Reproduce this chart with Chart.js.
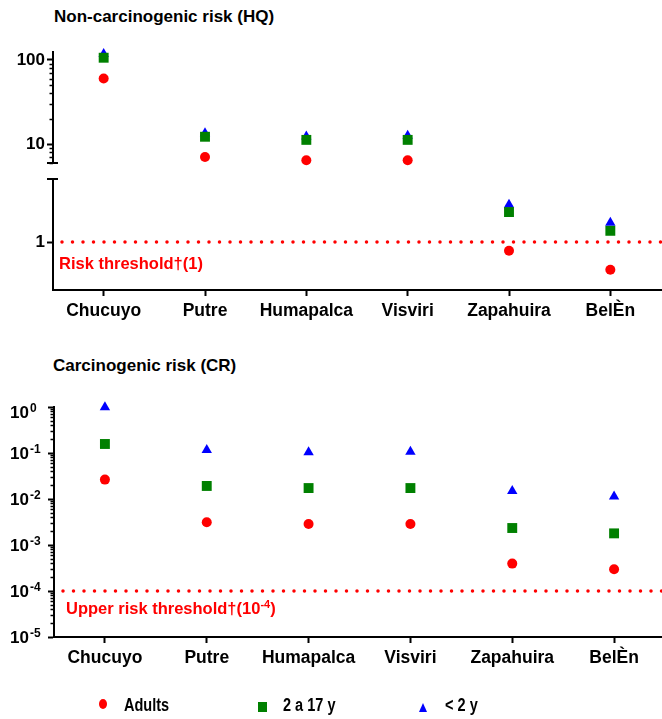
<!DOCTYPE html>
<html>
<head>
<meta charset="utf-8">
<script src="https://cdn.jsdelivr.net/npm/chart.js@4.4.1/dist/chart.umd.min.js"></script>
<style>
  html, body { margin: 0; padding: 0; background: #fff; overflow: hidden; }
  body { width: 662px; height: 719px; position: relative; font-family: 'Liberation Sans', Arial, sans-serif; }
  .title { position: absolute; left: 54px; font-weight: bold; font-size: 17px; line-height: 17px; color: #000; white-space: nowrap; }
  .box { position: absolute; left: 0; width: 672px; }
  .marker { position: absolute; }
  .legend-text { position: absolute; top: 694.5px; font-weight: bold; font-size: 17.5px; line-height: 20px; color: #000;
    white-space: nowrap; transform: scaleX(0.83); transform-origin: left center; }
</style>
</head>
<body>
<div class="title" style="top:8px">Non-carcinogenic risk (HQ)</div>
<div class="box" style="top:0;height:330px"><canvas id="hqChart"></canvas></div>
<div class="title" style="top:357px;left:53px">Carcinogenic risk (CR)</div>
<div class="box" style="top:340px;height:379px"><canvas id="crChart"></canvas></div>
<div id="legend"></div>

<script>
const sites = ['Chucuyo', 'Putre', 'Humapalca', 'Visviri', 'Zapahuira', 'BelÈn'];
const seriesNames = ['Adults', '2 a 17 y', '< 2 y'];

// hazard quotient (HQ)
const hqAdults = [60, 7.0, 6.4, 6.4, 0.79, 0.47];
const hqTeens = [106, 12.2, 11.2, 11.2, 2.27, 1.36];
const hqInfants = [117, 13.4, 12.3, 12.5, 2.77, 1.69];

// carcinogenic risk (CR)
const crAdults = [0.0264, 0.00311, 0.00286, 0.00286, 0.000394, 0.000296];
const crTeens = [0.157, 0.0192, 0.0173, 0.0173, 0.00234, 0.00179];
const crInfants = [0.985, 0.116, 0.104, 0.106, 0.0149, 0.0113];

const hqThreshold = 1;
const crThreshold = 1e-4;
const hqBreak = 5.8;
const hqUpperRange = [5.95, 124];
const hqLowerRange = [0.27, 5.6];
const crRange = [1e-5, 1];

const FONT = "'Liberation Sans', Arial, sans-serif";
Chart.defaults.font.family = FONT;
Chart.defaults.color = '#000';

const styles = [
  { color: '#ff0000', pointStyle: 'circle', radius: 5 },
  { color: '#008000', pointStyle: 'rect', radius: 7 },
  { color: '#0000ff', pointStyle: 'triangle', radius: 6 }
];

function pointSet(label, data, style, yAxisID) {
  return {
    label, data, yAxisID,
    clip: false,
    showLine: false,
    pointStyle: style.pointStyle,
    pointRadius: style.radius,
    pointHoverRadius: style.radius,
    pointBackgroundColor: style.color,
    pointBorderColor: style.color,
    pointBorderWidth: 0,
    borderColor: style.color,
    backgroundColor: style.color
  };
}

// dotted red line + caption
const thresholdLine = {
  id: 'thresholdLine',
  afterDatasetsDraw(chart, args, opts) {
    const scale = chart.scales[opts.scaleId];
    const y = scale.getPixelForValue(opts.value);
    const { left, right } = chart.chartArea;
    const ctx = chart.ctx;
    ctx.save();
    ctx.strokeStyle = '#ff0000';
    ctx.lineWidth = 3.5;
    ctx.lineCap = 'round';
    ctx.setLineDash([0, 10.5]);
    ctx.beginPath();
    ctx.moveTo(left + 9, y);
    ctx.lineTo(right, y);
    ctx.stroke();
    ctx.setLineDash([]);
    ctx.fillStyle = '#ff0000';
    ctx.textBaseline = 'alphabetic';
    ctx.font = 'bold 16.5px ' + FONT;
    let x = left + opts.labelX;
    const base = y + opts.labelDy;
    ctx.fillText(opts.label, x, base);
    x += ctx.measureText(opts.label).width;
    if (opts.sup) {
      ctx.font = 'bold 11px ' + FONT;
      ctx.fillText(opts.sup, x, base - 6);
      x += ctx.measureText(opts.sup).width;
      ctx.font = 'bold 16.5px ' + FONT;
      ctx.fillText(opts.tail, x, base);
    }
    ctx.restore();
  }
};

// minor ticks on log axes, and caps at the axis break
const axisExtras = {
  id: 'axisExtras',
  afterDraw(chart, args, opts) {
    const ctx = chart.ctx;
    ctx.save();
    ctx.strokeStyle = '#000';
    ctx.lineWidth = 1.5;
    (opts.minor || []).forEach(id => {
      const s = chart.scales[id];
      const lo = Math.floor(Math.log10(s.min));
      const hi = Math.ceil(Math.log10(s.max));
      for (let n = lo; n <= hi; n++) {
        for (let k = 2; k <= 9; k++) {
          const v = k * Math.pow(10, n);
          if (v < s.min || v > s.max) continue;
          const y = Math.round(s.getPixelForValue(v)) + 0.5;
          ctx.beginPath();
          ctx.moveTo(s.right - 3.5, y);
          ctx.lineTo(s.right, y);
          ctx.stroke();
        }
      }
    });
    ctx.lineWidth = 2;
    (opts.caps || []).forEach(c => {
      const s = chart.scales[c.scaleId];
      const y = s.getPixelForValue(c.at === 'min' ? s.min : s.max);
      ctx.beginPath();
      ctx.moveTo(s.right - 6, y);
      ctx.lineTo(s.right + 5, y);
      ctx.stroke();
    });
    ctx.restore();
  }
};

// "10" with superscript exponent
const expLabels = {
  id: 'expLabels',
  afterDraw(chart, args, opts) {
    const s = chart.scales[opts.scaleId];
    const ctx = chart.ctx;
    ctx.save();
    ctx.fillStyle = '#000';
    ctx.textBaseline = 'alphabetic';
    s.ticks.forEach(t => {
      let y = s.getPixelForValue(t.value);
      if (y < s.top + 4) y += 5; // keep the top label inside
      const exp = Math.round(Math.log10(t.value));
      ctx.font = 'bold 17px ' + FONT;
      ctx.fillText('10', opts.x, y + 6);
      const w = ctx.measureText('10').width;
      ctx.font = 'bold 12px ' + FONT;
      ctx.fillText(String(exp), opts.x + w + 1, y);
    });
    ctx.restore();
  }
};

function xScale(height) {
  return {
    type: 'category',
    offset: true,
    grid: { drawOnChartArea: false, tickLength: 6, tickWidth: 2, tickColor: '#000' },
    border: { color: '#000', width: 2 },
    ticks: { color: '#000', font: { size: 17.5, weight: 'bold' }, padding: 5, autoSkip: false, maxRotation: 0 },
    afterFit: s => { s.height = height; }
  };
}

function logAxis(range, ticks, extra) {
  return Object.assign({
    type: 'logarithmic',
    position: 'left',
    min: range[0],
    max: range[1],
    grid: { drawOnChartArea: false, tickLength: 6, tickWidth: 2, tickColor: '#000' },
    border: { color: '#000', width: 2 },
    ticks: { color: '#000', font: { size: 17, weight: 'bold' }, padding: 2, callback: v => String(v) },
    afterBuildTicks: s => { s.ticks = ticks.map(v => ({ value: v })); },
    afterFit: s => { s.width = 53; }
  }, extra);
}

const hqSeries = [hqAdults, hqTeens, hqInfants];
const hqSets = [];
hqSeries.forEach((vals, i) => {
  hqSets.push(pointSet(seriesNames[i], vals.map(v => v >= hqBreak ? v : null), styles[i], 'yUpper'));
  hqSets.push(pointSet(seriesNames[i], vals.map(v => v < hqBreak ? v : null), styles[i], 'yLower'));
});

new Chart(document.getElementById('hqChart'), {
  type: 'line',
  data: { labels: sites, datasets: hqSets },
  options: {
    responsive: true,
    maintainAspectRatio: false,
    animation: false,
    layout: { padding: { top: 52, bottom: 0, left: 0, right: 11 } },
    plugins: {
      legend: { display: false },
      tooltip: { enabled: false },
      thresholdLine: { scaleId: 'yLower', value: hqThreshold, label: 'Risk threshold†(1)', labelX: 6, labelDy: 27 },
      axisExtras: {
        minor: ['yUpper'],
        caps: [{ scaleId: 'yUpper', at: 'min' }, { scaleId: 'yLower', at: 'max' }]
      }
    },
    scales: {
      x: xScale(40),
      yUpper: logAxis(hqUpperRange, [10, 100], { stack: 'hq', stackWeight: 111, weight: 3 }),
      yGap: {
        type: 'linear', position: 'left', stack: 'hq', stackWeight: 16, weight: 2,
        grid: { display: false }, border: { display: false }, ticks: { display: false },
        afterFit: s => { s.width = 53; }
      },
      yLower: logAxis(hqLowerRange, [1], { stack: 'hq', stackWeight: 111, weight: 1 })
    }
  },
  plugins: [thresholdLine, axisExtras]
});

const crSeries = [crAdults, crTeens, crInfants];
const crSets = crSeries.map((vals, i) => pointSet(seriesNames[i], vals, styles[i], 'y'));
const crTicks = [1e-5, 1e-4, 1e-3, 1e-2, 1e-1, 1];

const crY = logAxis(crRange, crTicks, {});
crY.ticks = { display: false };
crY.afterFit = s => { s.width = 54; };

new Chart(document.getElementById('crChart'), {
  type: 'line',
  data: { labels: sites, datasets: crSets },
  options: {
    responsive: true,
    maintainAspectRatio: false,
    animation: false,
    layout: { padding: { top: 67, bottom: 0, left: 0, right: 0 } },
    plugins: {
      legend: { display: false },
      tooltip: { enabled: false },
      thresholdLine: { scaleId: 'y', value: crThreshold, label: 'Upper risk threshold†(10', sup: '-4', tail: ')', labelX: 12, labelDy: 23 },
      axisExtras: { minor: ['y'] },
      expLabels: { scaleId: 'y', x: 10 }
    },
    scales: { x: xScale(82), y: crY }
  },
  plugins: [thresholdLine, axisExtras, expLabels]
});

// legend below the lower chart
const legendMarkerX = [99, 258, 419];
const legendTextX = [124, 283, 445];
const legend = document.getElementById('legend');
seriesNames.forEach((name, i) => {
  const st = styles[i];
  const m = document.createElement('span');
  m.className = 'marker';
  const x = legendMarkerX[i];
  if (st.pointStyle === 'circle') {
    m.style.cssText = `left:${x}px;top:699px;width:8px;height:10px;border-radius:50%;background:${st.color}`;
  } else if (st.pointStyle === 'rect') {
    m.style.cssText = `left:${x}px;top:702px;width:8.5px;height:10px;background:${st.color}`;
  } else {
    m.style.cssText = `left:${x}px;top:702.5px;width:0;height:0;border-left:4.3px solid transparent;border-right:4.3px solid transparent;border-bottom:9.6px solid ${st.color}`;
  }
  const t = document.createElement('span');
  t.className = 'legend-text';
  t.style.left = legendTextX[i] + 'px';
  t.textContent = name;
  legend.appendChild(m);
  legend.appendChild(t);
});
</script>
</body>
</html>
